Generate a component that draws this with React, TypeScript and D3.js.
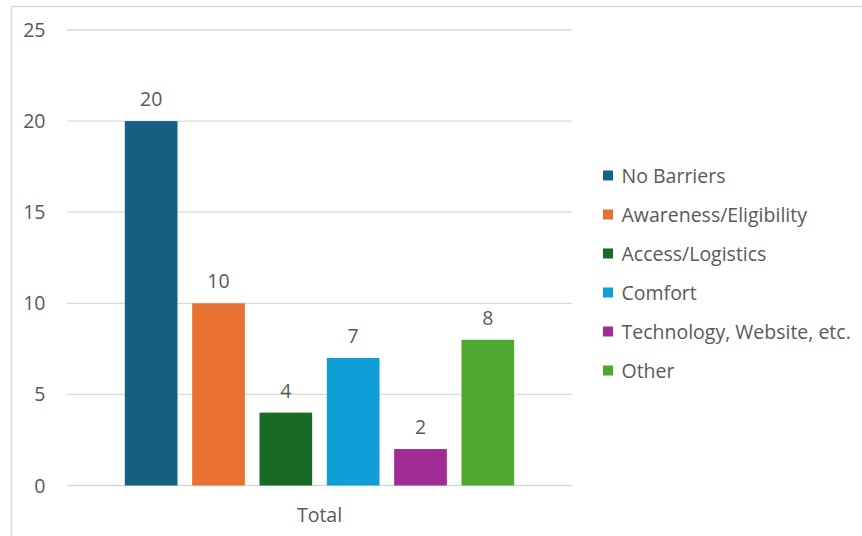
import React from "react";
import * as d3 from "d3";

const categories = ["Total"];
const seriesNames = [
  "No Barriers",
  "Awareness/Eligibility",
  "Access/Logistics",
  "Comfort",
  "Technology, Website, etc.",
  "Other",
];
const seriesValues = [20, 10, 4, 7, 2, 8];
const seriesColors = ["#156082", "#E97132", "#196B24", "#0F9ED5", "#A02B93", "#4EA72E"];
const yTicks = [0, 5, 10, 15, 20, 25];

const W = 862;
const H = 536;
const FONT = "'Open Sans', sans-serif";
const TEXT = "#595959";
const FS = 19.5;

export default function App() {
  const plotLeft = 67;
  const plotRight = 572;
  const plotTop = 30;
  const plotBottom = 485.5;

  const y = d3.scaleLinear().domain([0, 25]).range([plotBottom, plotTop]);
  const x0 = d3.scaleBand<string>().domain(categories).range([plotLeft, plotRight]).paddingInner(0).paddingOuter(0.125);
  const x1 = d3
    .scaleBand<string>()
    .domain(seriesNames)
    .range([0, x0.bandwidth()])
    .paddingInner(0.2175)
    .paddingOuter(0.2175 / 2);

  const legendX = 603;
  const legendY0 = 175.5;
  const legendStep = 39;

  return (
    <svg
      width={W}
      height={H}
      style={{ position: "absolute", left: 0, top: 0, background: "#fff" }}
      fontFamily={FONT}
    >
      <rect x={11.5} y={6.5} width={W} height={H} fill="#fff" stroke="#d9d9d9" strokeWidth={1.5} />
      {yTicks.map((t) => (
        <g key={t}>
          <line x1={plotLeft} x2={plotRight} y1={y(t)} y2={y(t)} stroke="#d9d9d9" strokeWidth={1.3} />
          <text x={45.5} y={y(t)} dy="0.36em" textAnchor="end" fontSize={FS} fill={TEXT}>
            {t}
          </text>
        </g>
      ))}
      {categories.map((c) => (
        <g key={c}>
          {seriesNames.map((s, i) => {
            const bx = (x0(c) || 0) + (x1(s) || 0);
            const bw = x1.bandwidth();
            const v = seriesValues[i];
            return (
              <g key={s}>
                <rect x={bx} y={y(v)} width={bw} height={y(0) - y(v)} fill={seriesColors[i]} />
                <text x={bx + bw / 2} y={y(v) - 15} textAnchor="middle" fontSize={FS} fill={TEXT}>
                  {v}
                </text>
              </g>
            );
          })}
          <text x={(x0(c) || 0) + x0.bandwidth() / 2} y={522} textAnchor="middle" fontSize={FS} fill={TEXT}>
            {c}
          </text>
        </g>
      ))}
      {seriesNames.map((s, i) => (
        <g key={s} transform={`translate(${legendX},${legendY0 + i * legendStep})`}>
          <rect x={0} y={-5} width={10} height={10} fill={seriesColors[i]} />
          <text x={18.5} y={0} dy="0.36em" fontSize={FS} fill={TEXT}>
            {s}
          </text>
        </g>
      ))}
    </svg>
  );
}
